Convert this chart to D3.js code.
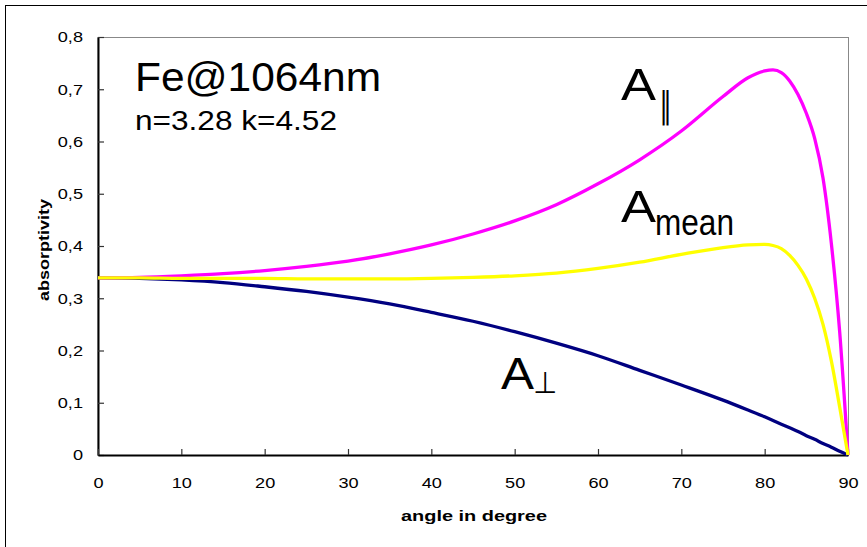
<!DOCTYPE html>
<html>
<head>
<meta charset="utf-8">
<script src="https://cdn.jsdelivr.net/npm/d3@7"></script>
<style>
  body { margin: 0; background: #fff; }
  svg text { font-family: "Liberation Sans", Arial, sans-serif; fill: #000; }
</style>
</head>
<body>
<script>
// angle of incidence (degree)
const angles = [0, 5, 10, 15, 20, 25, 30, 35, 40, 45, 50, 55, 60, 65, 70, 75, 78, 80, 81, 82, 83, 84, 85, 86, 87, 88, 89, 90];
// absorptivity for parallel polarisation
const absPar = [0.339, 0.340, 0.343, 0.347, 0.353, 0.361, 0.371, 0.385, 0.402, 0.423, 0.448, 0.479, 0.519, 0.565, 0.620, 0.686, 0.722, 0.735, 0.737, 0.732, 0.716, 0.690, 0.654, 0.606, 0.530, 0.405, 0.236, 0];
// absorptivity for perpendicular polarisation
const absPerp = [0.339, 0.338, 0.335, 0.330, 0.322, 0.313, 0.302, 0.289, 0.273, 0.256, 0.236, 0.214, 0.190, 0.162, 0.134, 0.105, 0.086, 0.073, 0.066, 0.059, 0.052, 0.045, 0.037, 0.030, 0.022, 0.015, 0.007, 0];
// mean absorptivity
const absMean = [0.339, 0.339, 0.338, 0.338, 0.338, 0.337, 0.337, 0.337, 0.338, 0.340, 0.343, 0.348, 0.357, 0.369, 0.384, 0.397, 0.402, 0.403, 0.401, 0.395, 0.382, 0.363, 0.337, 0.300, 0.250, 0.180, 0.092, 0];

const xTicks = [0, 10, 20, 30, 40, 50, 60, 70, 80, 90];
const yTicks = [0, 0.1, 0.2, 0.3, 0.4, 0.5, 0.6, 0.7, 0.8];

// svg size and plot area
const w = 867, h = 547;
const plotL = 98, plotR = 848, plotT = 37, plotB = 455;

const svg = d3.select("body").append("svg")
  .attr("width", w)
  .attr("height", h);

// outer chart frame (runs off the picture on the right and bottom)
svg.append("rect")
  .attr("x", 5.5).attr("y", 5.5)
  .attr("width", 900).attr("height", 600)
  .style("fill", "none").style("stroke", "#000").style("stroke-width", 1);

const x = d3.scaleLinear().domain([0, 90]).range([plotL, plotR]);
const y = d3.scaleLinear().domain([0, 0.8]).range([plotB, plotT]);

// gray border of the plot area
svg.append("rect")
  .attr("x", plotL).attr("y", plotT + 0.5)
  .attr("width", plotR - plotL + 0.5).attr("height", plotB - plotT)
  .style("fill", "none").style("stroke", "#888").style("stroke-width", 1);

// axes, ticks pointing inside
const yAxis = svg.append("g")
  .attr("transform", "translate(" + plotL + ",0)")
  .call(d3.axisLeft(y).tickValues(yTicks).tickSizeInner(-6).tickSizeOuter(0).tickPadding(14)
    .tickFormat(d => d3.format(".1~f")(d).replace(".", ",")));

const xAxis = svg.append("g")
  .attr("transform", "translate(0," + plotB + ")")
  .call(d3.axisBottom(x).tickValues(xTicks).tickSizeInner(-6).tickSizeOuter(0).tickPadding(22));

[xAxis, yAxis].forEach(a => {
  a.select(".domain").style("stroke", "#000").style("stroke-width", 2);
  a.selectAll(".tick line").style("stroke", "#333").style("stroke-width", 1.2);
  a.selectAll(".tick text")
    .style("font-size", "15.5px")
    .style("font-family", "'Liberation Sans', Arial, sans-serif")
    .style("fill", "#000")
    .each(function() {
      const len = this.getComputedTextLength();
      d3.select(this).attr("textLength", len * 1.17).attr("lengthAdjust", "spacingAndGlyphs");
    });
});
yAxis.selectAll(".tick text").attr("dx", "-1px");

// axis titles
svg.append("text")
  .attr("x", 474).attr("y", 521)
  .attr("text-anchor", "middle")
  .attr("textLength", 146).attr("lengthAdjust", "spacingAndGlyphs")
  .style("font-size", "14px").style("font-weight", "bold")
  .text("angle in degree");

svg.append("text")
  .attr("transform", "translate(49,250) rotate(-90)")
  .attr("text-anchor", "middle")
  .attr("textLength", 102).attr("lengthAdjust", "spacingAndGlyphs")
  .style("font-size", "14px").style("font-weight", "bold")
  .text("absorptivity");

// curves
const series = [
  { values: absPerp, color: "#000080" },
  { values: absPar, color: "#ff00ff" },
  { values: absMean, color: "#ffff00" }
];

const line = d3.line()
  .x((d, i) => x(angles[i]))
  .y(d => y(d))
  .curve(d3.curveMonotoneX);

svg.selectAll(".curve")
  .data(series)
  .enter().append("path")
  .attr("class", "curve")
  .attr("d", d => line(d.values))
  .style("fill", "none")
  .style("stroke", d => d.color)
  .style("stroke-width", 3.3)
  .style("stroke-linejoin", "round");

// annotation texts
svg.append("text")
  .attr("x", 135).attr("y", 91)
  .attr("textLength", 246).attr("lengthAdjust", "spacingAndGlyphs")
  .style("font-size", "40px")
  .text("Fe@1064nm");

svg.append("text")
  .attr("x", 135).attr("y", 130)
  .attr("textLength", 202).attr("lengthAdjust", "spacingAndGlyphs")
  .style("font-size", "28px")
  .text("n=3.28 k=4.52");

// curve labels: big A plus subscript
function curveLabel(ax, ay, aw, sub, sx, sy, sw, subSize, subFont) {
  svg.append("text")
    .attr("x", ax).attr("y", ay)
    .attr("textLength", aw).attr("lengthAdjust", "spacingAndGlyphs")
    .style("font-size", "44px")
    .text("A");
  svg.append("text")
    .attr("x", sx).attr("y", sy)
    .attr("textLength", sw).attr("lengthAdjust", "spacingAndGlyphs")
    .style("font-size", subSize + "px")
    .style("font-family", subFont)
    .text(sub);
}

curveLabel(621, 100, 35, "\u2225", 659, 118, 13, 36, "'DejaVu Sans', sans-serif");
curveLabel(621, 222, 35, "mean", 655, 235, 79, 36, "'Liberation Sans', Arial, sans-serif");
curveLabel(501, 389, 33, "\u22A5", 533, 393, 24, 30, "'DejaVu Sans', sans-serif");
</script>
</body>
</html>
